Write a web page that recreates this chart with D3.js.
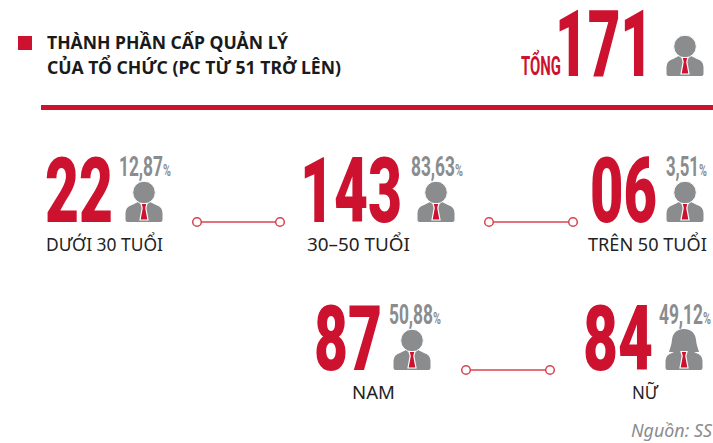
<!DOCTYPE html>
<html>
<head>
<meta charset="utf-8">
<script src="https://cdn.jsdelivr.net/npm/d3@7"></script>
<style>
  html, body { margin: 0; padding: 0; background: #fff; }
  svg { display: block; }
</style>
</head>
<body>
<div id="chart"></div>
<script>
// values
const titleLines = ["THÀNH PHẦN CẤP QUẢN LÝ", "CỦA TỔ CHỨC (PC TỪ 51 TRỞ LÊN)"];
const totalLabel = "TỔNG";
const totalValue = "171";
const groups = ["DƯỚI 30 TUỔI", "30–50 TUỔI", "TRÊN 50 TUỔI", "NAM", "NỮ"];
const counts = ["22", "143", "06", "87", "84"];
const shares = ["12,87", "83,63", "3,51", "50,88", "49,12"];
const source = "Nguồn: SS";

const width = 713, height = 443;
const red = "#cd1230", gray = "#8a8c8e", lineRed = "#d8434f";
const digits = "Roboto, 'Liberation Sans Narrow', sans-serif";
const body = "'Noto Sans', 'Open Sans', sans-serif";

// layout, by group
const countX = d3.scaleOrdinal().domain(groups).range([45, 300, 590, 314, 583]);
const countW = d3.scaleOrdinal().domain(groups).range([68, 102, 67, 68, 70]);
const base = d3.scaleOrdinal().domain(groups).range([222, 222, 222, 370, 370]);
const shareX = d3.scaleOrdinal().domain(groups).range([119, 411, 666, 389, 659]);
const shareW = d3.scaleOrdinal().domain(groups).range([44, 44, 33, 44, 44]);
const iconX = d3.scaleOrdinal().domain(groups).range([144, 436, 685, 412, 684]);
const labelX = d3.scaleOrdinal().domain(groups).range([46, 307, 588, 352, 632]);
const labelW = d3.scaleOrdinal().domain(groups).range([117, 103, 119, 43, 26]);

const links = [[197, 280, 222], [489, 573, 222], [466, 550, 370]];

const svg = d3.select("#chart").append("svg")
  .attr("width", width)
  .attr("height", height);

// draws text, squeezed sideways so it takes exactly w pixels
function fitText(parent, str, x, y, w, size, family, weight, fill, italic) {
  const t = parent.append("text")
    .attr("font-family", family)
    .attr("font-size", size)
    .attr("font-weight", weight)
    .attr("font-style", italic ? "italic" : "normal")
    .attr("fill", fill)
    .text(str);
  const len = t.node().getComputedTextLength();
  t.attr("transform", `translate(${x},${y}) scale(${w / len},1)`);
  return t;
}

function person(x, y, female) {
  const g = svg.append("g").attr("transform", `translate(${x},${y})`);
  const bodyPath = "M-16.5,0 Q-18.5,0 -18.5,-2 L-18.5,-9 Q-18.5,-15 -12,-17 L-6,-20 L6,-20 L12,-17 Q18.5,-15 18.5,-9 L18.5,-2 Q18.5,0 16.5,0 Z";
  g.append("path").attr("d", bodyPath).attr("fill", gray);
  if (female) {
    g.append("path")
      .attr("d", "M0,-41 C8,-41 11.5,-36 12,-30 C12.5,-25 14,-22 15,-18 L-15,-18 C-14,-22 -12.5,-25 -12,-30 C-11.5,-36 -8,-41 0,-41 Z")
      .attr("fill", gray);
  } else {
    g.append("circle").attr("cy", -29.5).attr("r", 11.3)
      .attr("fill", gray).attr("stroke", "#fff").attr("stroke-width", 1);
  }
  // tie with its white outline
  g.append("path")
    .attr("d", "M-3,-18.5 L3,-18.5 L1.8,-14 L4,-2 L-4,-2 L-1.8,-14 Z")
    .attr("fill", red).attr("stroke", "#fff").attr("stroke-width", 1.2);
}

// header
svg.append("rect").attr("x", 18).attr("y", 36).attr("width", 14).attr("height", 14).attr("fill", red);
svg.selectAll("text.title")
  .data(titleLines)
  .join("text")
  .attr("class", "title")
  .attr("x", 47)
  .attr("y", (d, i) => 49 + i * 25)
  .attr("font-family", body)
  .attr("font-size", 17.6)
  .attr("font-weight", 700)
  .attr("fill", "#1a1a1a")
  .text(d => d);
svg.append("rect").attr("x", 41).attr("y", 105).attr("width", 672).attr("height", 5).attr("fill", red);

fitText(svg, totalLabel, 521, 75, 40, 25, digits, 700, red);
fitText(svg, totalValue, 555, 76, 98, 93, digits, 900, red);
person(685, 76, false);

// one block per group
groups.forEach((g, i) => {
  const y = base(g);
  fitText(svg, counts[i], countX(g), y, countW(g), 91, digits, 900, red);
  fitText(svg, shares[i], shareX(g), y - 46, shareW(g), 27, digits, 700, gray);
  fitText(svg, "%", shareX(g) + shareW(g), y - 46, 8, 17, digits, 700, gray);
  person(iconX(g), y, g === "NỮ");
  fitText(svg, g, labelX(g), y + 29, labelW(g), 17.5, body, 400, "#222");
});

// connectors
links.forEach(([x1, x2, y]) => {
  svg.append("line")
    .attr("x1", x1).attr("x2", x2).attr("y1", y).attr("y2", y)
    .attr("stroke", lineRed).attr("stroke-width", 1.5);
  [x1, x2].forEach(cx => {
    svg.append("circle").attr("cx", cx).attr("cy", y).attr("r", 4.3)
      .attr("fill", "#fff").attr("stroke", lineRed).attr("stroke-width", 1.5);
  });
});

fitText(svg, source, 631, 437, 81, 18, body, 400, "#8a8c8e", true);
</script>
</body>
</html>
